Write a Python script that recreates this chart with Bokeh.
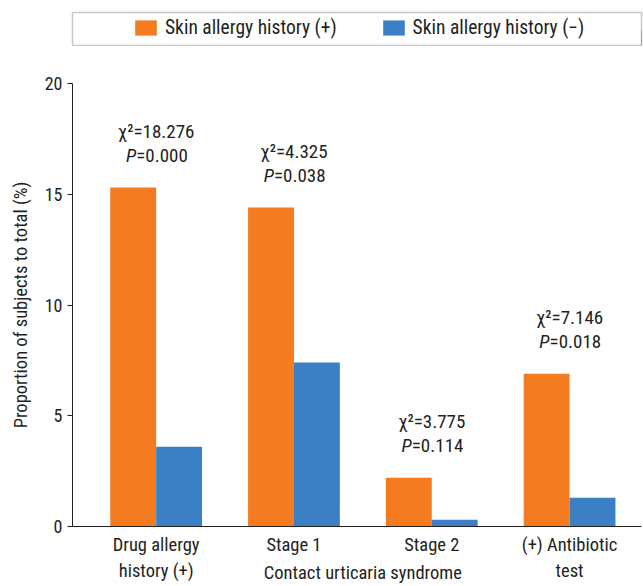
from bokeh.plotting import figure
from bokeh.models import Legend, LegendItem, FixedTicker, ColumnDataSource, Range1d, LinearAxis
from bokeh.layouts import column
from bokeh.core.properties import value
from bokeh.embed import file_html
from bokeh.resources import INLINE

# ---- data ----
categories = ["Drug allergy\nhistory (+)", "Stage 1", "Stage 2", "(+) Antibiotic\ntest"]
pos_values = [15.3, 14.4, 2.2, 6.9]
neg_values = [3.6, 7.4, 0.3, 1.3]
chi2_values = ["18.276", "4.325", "3.775", "7.146"]
p_values = ["0.000", "0.038", "0.114", "0.018"]
series_labels = ["Skin allergy history (+)", "Skin allergy history (\u2212)"]
group_label = "Contact urticaria syndrome"
y_ticks = [0, 5, 10, 15, 20]
y_label = "Proportion of subjects to total (%)"

FONT = "Roboto Condensed, Liberation Sans Narrow, Roboto, sans-serif"
ORANGE = "#F47B20"
BLUE = "#3B7FC4"
TXT = "#231F20"

x_idx = [i + 1 for i in range(len(categories))]
bw = 0.333
src = ColumnDataSource(dict(
    x=x_idx,
    xo=[x - bw / 2 for x in x_idx],
    xb=[x + bw / 2 for x in x_idx],
    pos=pos_values,
    neg=neg_values,
    chi=["\u03c7\u00b2=" + c for c in chi2_values],
    pv=["=" + p for p in p_values],
    P=["P"] * len(p_values),
))

# ---- main plot ----
p = figure(width=643, height=540, output_backend="svg", toolbar_location=None,
           x_range=Range1d(0.393, 4.522), y_range=Range1d(0, 20),
           min_border_left=72, min_border_right=0, min_border_top=37, min_border_bottom=57)
p.outline_line_color = None
p.grid.grid_line_color = None

p.vbar(x="xo", top="pos", width=bw, source=src, fill_color=ORANGE, line_color=None)
p.vbar(x="xb", top="neg", width=bw, source=src, fill_color=BLUE, line_color=None)

p.text(x="x", y="pos", text="chi", source=src, text_align="center", text_baseline="middle",
       y_offset=-56, text_font=value(FONT), text_font_size="19px", text_color=TXT)
p.text(x="x", y="pos", text="P", source=src, text_align="right", text_baseline="middle",
       y_offset=-32, x_offset=-20, text_font=value(FONT), text_font_style="italic",
       text_font_size="19px", text_color=TXT)
p.text(x="x", y="pos", text="pv", source=src, text_align="left", text_baseline="middle",
       y_offset=-32, x_offset=-20, text_font=value(FONT), text_font_size="19px", text_color=TXT)

# axes
p.xaxis.ticker = FixedTicker(ticks=x_idx)
p.xaxis.major_label_overrides = {x: c for x, c in zip(x_idx, categories)}
p.xaxis.major_tick_line_color = None
p.xaxis.major_tick_out = 0
p.xaxis.major_tick_in = 0
p.xaxis.minor_tick_line_color = None
p.xaxis.minor_tick_out = 0
p.xaxis.major_label_standoff = 7
p.xaxis.major_label_text_line_height = 1.22

p.yaxis.ticker = FixedTicker(ticks=y_ticks)
p.yaxis.major_tick_out = 5
p.yaxis.major_tick_in = 0
p.yaxis.minor_tick_line_color = None
p.yaxis.axis_label = y_label
p.yaxis.axis_label_standoff = 10
p.yaxis.axis_label_text_font_style = "normal"

for ax in [p.xaxis, p.yaxis]:
    ax.axis_line_color = TXT
    ax.major_label_text_font = FONT
    ax.major_label_text_font_size = "18.5px"
    ax.major_label_text_color = TXT
    ax.axis_label_text_font = FONT
    ax.axis_label_text_color = TXT
p.yaxis.major_tick_line_color = TXT
p.yaxis.major_label_text_font_size = "18px"
p.yaxis.axis_label_text_font_size = "18.5px"

# group label under Stage 1 / Stage 2, drawn as an extra label-only axis
gax = LinearAxis(ticker=FixedTicker(ticks=[2.5]), major_label_overrides={2.5: group_label},
                 axis_line_color=None, major_tick_line_color=None, minor_tick_line_color=None,
                 major_tick_out=0, major_tick_in=0, minor_tick_out=0,
                 major_label_standoff=-24, major_label_text_font=FONT,
                 major_label_text_font_size="18.5px", major_label_text_color=TXT)
p.add_layout(gax, "below")

# ---- legend strip ----
lg = figure(width=643, height=46, output_backend="svg", toolbar_location=None,
            x_axis_type=None, y_axis_type=None, x_range=Range1d(0, 1), y_range=Range1d(0, 1),
            min_border_left=72, min_border_right=2, min_border_top=12, min_border_bottom=0)
lg.grid.grid_line_color = None
lg.outline_line_color = "#C8C8C8"
lg.outline_line_width = 1.5
dummy = ColumnDataSource(dict(x=[5], top=[0.5]))
r1 = lg.vbar(x="x", top="top", width=0.1, source=dummy, fill_color=ORANGE, line_color=None)
r2 = lg.vbar(x="x", top="top", width=0.1, source=dummy, fill_color=BLUE, line_color=None)
legend = Legend(items=[LegendItem(label=series_labels[0], renderers=[r1]),
                       LegendItem(label=series_labels[1], renderers=[r2])],
                orientation="horizontal", location=(60, 7),
                border_line_color=None, background_fill_alpha=0,
                glyph_width=27, glyph_height=19, label_standoff=6, spacing=43,
                label_text_font=FONT, label_text_font_size="19.5px", label_text_color=TXT,
                padding=0, margin=0)
lg.add_layout(legend, "center")

layout = column(lg, p, spacing=0)
open("out.html", "w").write(file_html(layout, INLINE))
